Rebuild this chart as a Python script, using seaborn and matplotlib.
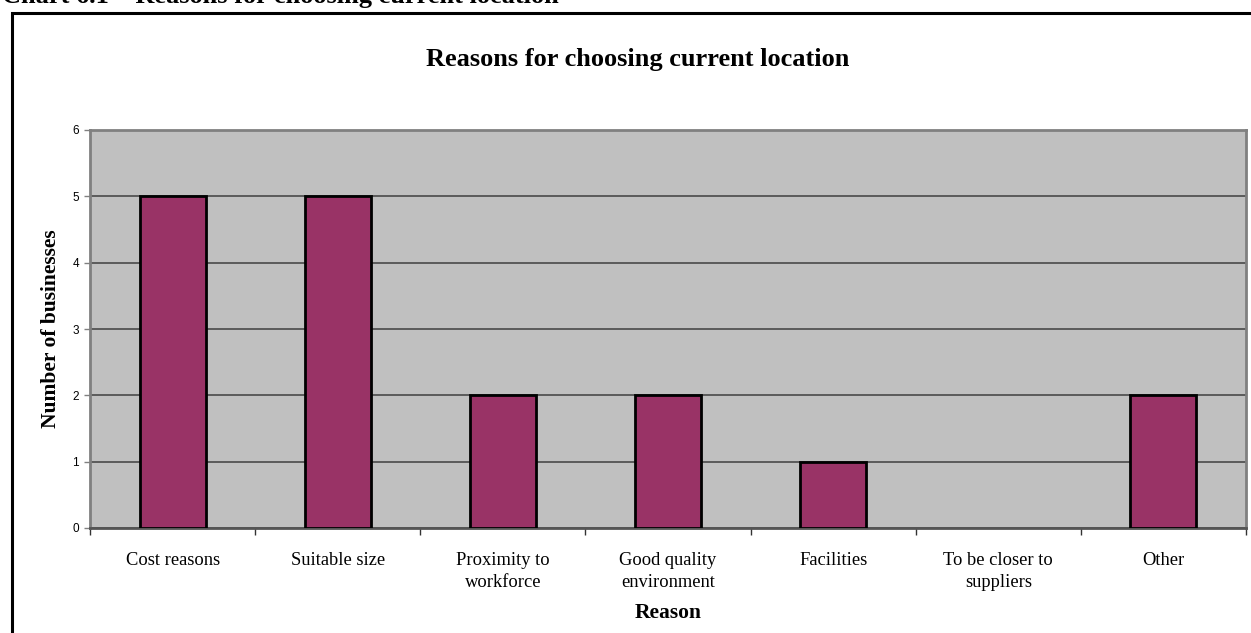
import matplotlib
matplotlib.use("Agg")
import matplotlib.pyplot as plt
from matplotlib.patches import Rectangle
from matplotlib.ticker import FixedLocator
import seaborn as sns
import pandas as pd
import numpy as np

reasons = ["Cost reasons", "Suitable size", "Proximity to\nworkforce",
           "Good quality\nenvironment", "Facilities",
           "To be closer to\nsuppliers", "Other"]
businesses = [5, 5, 2, 2, 1, 0, 2]
y_ticks = [0, 1, 2, 3, 4, 5, 6]

sns.set_theme(style="white")
plt.rcParams["font.family"] = ["Liberation Serif", "DejaVu Serif"]
plt.rcParams["text.color"] = "black"
plt.rcParams["axes.labelcolor"] = "black"

df = pd.DataFrame({"Reason": reasons, "Businesses": businesses})

W, H = 1251, 633
fig = plt.figure(figsize=(W / 100, H / 100), dpi=100)
ax = fig.add_axes([90 / W, 1 - 528 / H, (1246 - 90) / W, (528 - 130) / H])
ax.set_facecolor("#C0C0C0")

sns.barplot(data=df, x="Reason", y="Businesses", order=reasons,
            color="#993366", saturation=1, width=0.4,
            edgecolor="black", linewidth=2, ax=ax, zorder=3)

# an empty category shows no outline
for patch in ax.patches:
    if patch.get_height() == 0:
        patch.set_linewidth(0)

ax.set_xlim(-0.5, len(reasons) - 0.5)
ax.set_ylim(0, 6)

# horizontal gridlines
ax.set_yticks(y_ticks)
ax.yaxis.grid(True, color="#4a4a4a", linewidth=1.2, zorder=1)
ax.xaxis.grid(False)
ax.set_axisbelow(True)

# y tick labels in a sans face
ax.set_yticklabels([str(v) for v in y_ticks], family="Liberation Sans",
                   fontsize=8.5, color="black")
ax.tick_params(axis="y", which="major", length=4, width=1, color="#808080",
               direction="out", pad=4, left=True)

# category labels centred, tick marks between categories
ax.set_xticks(np.arange(len(reasons)))
ax.set_xticklabels(reasons, fontsize=13.3, color="black", linespacing=1.4)
ax.tick_params(axis="x", which="major", length=0, pad=17, bottom=True)
ax.xaxis.set_minor_locator(FixedLocator(np.arange(-0.5, len(reasons), 1.0)))
ax.tick_params(axis="x", which="minor", length=5, width=1, color="#333333",
               direction="out", bottom=True)

for side in ["top", "right", "left", "bottom"]:
    ax.spines[side].set_visible(True)
    ax.spines[side].set_color("#808080")
    ax.spines[side].set_linewidth(2)
ax.spines["bottom"].set_color("#555555")

ax.set_xlabel("Reason", fontsize=15.5, fontweight="bold", labelpad=9)
ax.set_ylabel("Number of businesses", fontsize=15.5, fontweight="bold",
              labelpad=8)
ax.set_title("Reasons for choosing current location", fontsize=19,
             fontweight="bold", pad=0, va="baseline", color="black",
             x=(638 - 90) / (1246 - 90), y=(528 - 66) / (528 - 130))

# chart frame
fig.patches.append(Rectangle((12 / W, -0.1), 1.2, 1 - 13 / H + 0.1,
                             transform=fig.transFigure, fill=False,
                             edgecolor="black", linewidth=2.2))

fig.text(2 / W, 1 - 3.5 / H, "Chart 6.1 \u2013 Reasons for choosing current location",
         fontsize=19, fontweight="bold", ha="left", va="baseline")

fig.savefig("out.png", dpi=100)
